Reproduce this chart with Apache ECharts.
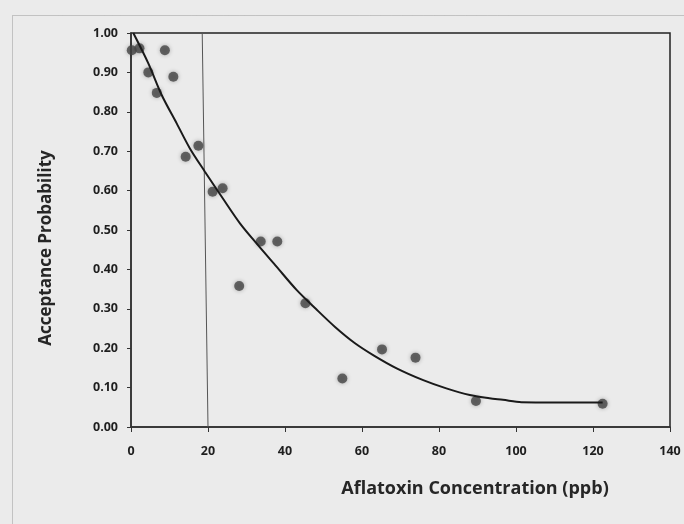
<!DOCTYPE html>
<html>
	<head>
		<meta charset="UTF-8">
		<title></title>
		<script src="https://cdn.jsdelivr.net/npm/echarts@6/dist/echarts.min.js"></script>
		<style>
			html, body { margin: 0; padding: 0; background: #ebebeb; }
			#chart { width: 684px; height: 524px; }
		</style>
	</head>
	<body>
		<div id="chart"></div>
		<script type="text/javascript">
			// measured points
			var concX = [0.2, 2.2, 4.5, 6.7, 8.8, 11.0, 14.2, 17.5, 21.2, 23.8, 28.1, 33.7, 38.0, 45.3, 54.9, 65.2, 73.9, 89.6, 122.5];
			var accY = [0.956, 0.961, 0.900, 0.848, 0.956, 0.889, 0.686, 0.714, 0.597, 0.606, 0.358, 0.471, 0.471, 0.314, 0.123, 0.197, 0.176, 0.066, 0.059];

			// fitted curve
			var curveX = [0.6, 4.5, 8.0, 11.9, 15.3, 19.2, 24.0, 28.3, 32.6, 37.8, 43.0, 48.0, 53.0, 58.0, 63.0, 69.0, 75.9, 81.9, 88.0, 93.1, 96.6, 101.4, 122.5];
			var curveY = [1.0, 0.923, 0.842, 0.770, 0.707, 0.648, 0.578, 0.517, 0.466, 0.407, 0.348, 0.300, 0.254, 0.214, 0.182, 0.149, 0.119, 0.098, 0.081, 0.073, 0.069, 0.063, 0.062];

			// 20 ppb limit line (slightly tilted in the scan)
			var limitX = [18.5, 20];
			var limitY = [1.0, 0.0];

			var xTicks = [0, 20, 40, 60, 80, 100, 120, 140];
			var yTicks = [0, 0.1, 0.2, 0.3, 0.4, 0.5, 0.6, 0.7, 0.8, 0.9, 1.0];

			var pts = [];
			for (var i = 0; i < concX.length; i++) pts.push([concX[i], accY[i]]);
			var curve = [];
			for (var i = 0; i < curveX.length; i++) curve.push([curveX[i], curveY[i]]);
			var limit = [];
			for (var i = 0; i < limitX.length; i++) limit.push([limitX[i], limitY[i]]);

			var font = '"Open Sans", Lato, sans-serif';
			var myChart = echarts.init(document.getElementById('chart'));
			var option = {
				backgroundColor: '#ebebeb',
				animation: false,
				grid: {
					left: 131, top: 33, right: 14, bottom: 97,
					show: true, borderColor: '#222', borderWidth: 1.5, backgroundColor: 'transparent'
				},
				graphic: [
					{ type: 'rect', left: 10, top: 13, shape: { width: 700, height: 540 },
					  style: { fill: 'none', stroke: '#999', lineWidth: 1, lineDash: [1, 1] }, silent: true },
					{ type: 'text', x: 475, y: 489,
					  style: { text: 'Aflatoxin Concentration (ppb)', fill: '#262626', font: 'bold 18px ' + font,
					           textAlign: 'center', textVerticalAlign: 'middle' } },
					{ type: 'text', x: 46, y: 248, rotation: Math.PI / 2,
					  style: { text: 'Acceptance Probability', fill: '#262626', font: 'bold 17px ' + font,
					           textAlign: 'center', textVerticalAlign: 'middle' } }
				],
				xAxis: {
					type: 'value', min: xTicks[0], max: xTicks[xTicks.length - 1], interval: 20,
					axisLine: { lineStyle: { color: '#333', width: 1.5 } },
					axisTick: { show: true, length: 5, lineStyle: { color: '#333' } },
					axisLabel: { color: '#1e1e1e', fontWeight: 'bold', fontSize: 12.5, fontFamily: font, margin: 18 },
					splitLine: { show: false }
				},
				yAxis: {
					type: 'value', min: yTicks[0], max: yTicks[yTicks.length - 1], interval: 0.1,
					axisLine: { show: true, lineStyle: { color: '#333', width: 1.5 } },
					axisTick: { show: true, length: 4, lineStyle: { color: '#333' } },
					axisLabel: { color: '#1e1e1e', fontWeight: 'bold', fontSize: 12.5, fontFamily: font, margin: 13,
						formatter: function (v) { return v.toFixed(2); } },
					splitLine: { show: false }
				},
				series: [
					{
						type: 'line', data: limit, symbol: 'none',
						lineStyle: { color: '#555', width: 1 }
					},
					{
						type: 'line', data: curve, symbol: 'none', smooth: 0.3,
						lineStyle: { color: '#1a1a1a', width: 2 }
					},
					{
						type: 'scatter', data: pts, symbolSize: 10,
						itemStyle: { color: '#454545', shadowColor: 'rgba(0,0,0,0.35)', shadowBlur: 4 }
					}
				]
			};
			myChart.setOption(option);
		</script>
	</body>
</html>
